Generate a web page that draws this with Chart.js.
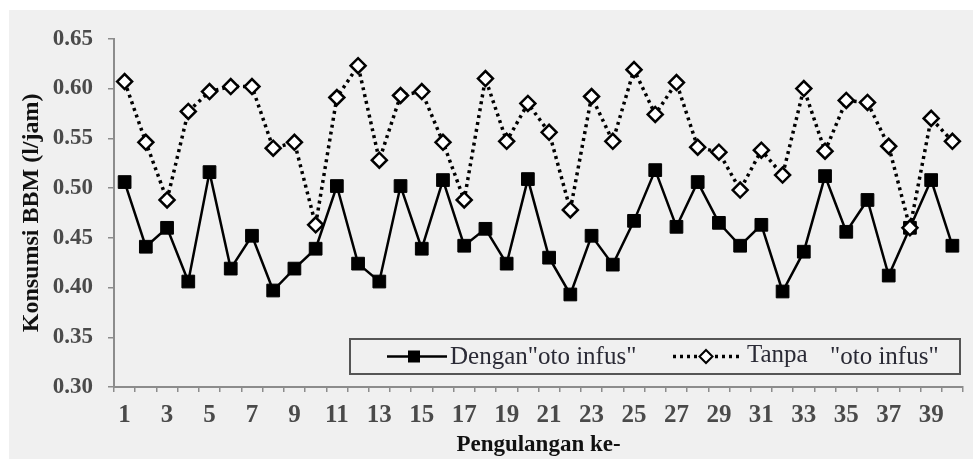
<!DOCTYPE html>
<html><head><meta charset="utf-8">
<script src="https://cdn.jsdelivr.net/npm/chart.js@4.4.0/dist/chart.umd.min.js"></script>
<style>
html,body{margin:0;padding:0;background:#fff;}
#wrap{position:absolute;left:9px;top:10px;width:964px;height:449px;background:#f0f0f0;}
canvas{display:block;}
</style></head><body>
<div id="wrap"><canvas id="c" width="964" height="449"></canvas></div>
<script>
const categories = ['1','2','3','4','5','6','7','8','9','10','11','12','13','14','15','16','17','18','19','20',
  '21','22','23','24','25','26','27','28','29','30','31','32','33','34','35','36','37','38','39','40'];
const tickLabels = ['1','3','5','7','9','11','13','15','17','19','21','23','25','27','29','31','33','35','37','39'];
const yTicks = [0.30, 0.35, 0.40, 0.45, 0.50, 0.55, 0.60, 0.65];
const dengan = [0.506,0.441,0.460,0.406,0.516,0.419,0.452,0.397,0.419,0.439,
  0.502,0.424,0.406,0.502,0.439,0.508,0.442,0.459,0.424,0.509,
  0.430,0.393,0.452,0.423,0.467,0.518,0.461,0.506,0.465,0.442,
  0.463,0.396,0.436,0.512,0.456,0.488,0.412,0.460,0.508,0.442];
const tanpa = [0.607,0.546,0.488,0.577,0.597,0.602,0.602,0.540,0.546,0.463,
  0.591,0.623,0.528,0.593,0.597,0.546,0.488,0.610,0.547,0.585,
  0.556,0.478,0.592,0.547,0.619,0.574,0.606,0.541,0.536,0.498,
  0.538,0.513,0.600,0.537,0.588,0.586,0.542,0.460,0.570,0.547];
const seriesLabels = ['Dengan"oto infus"', 'Tanpa "oto infus"'];

const SERIF = "'Liberation Serif','Times New Roman',serif";

const boxLegend = {
  id: 'boxLegend',
  afterDraw(chart) {
    const {ctx, chartArea: a} = chart;
    const w = 610, h = 35;
    const x0 = a.right - 3 - w, y0 = a.bottom - 13 - h;
    const cy = y0 + h / 2;
    ctx.save();
    ctx.fillStyle = '#f0f0f0';
    ctx.fillRect(x0, y0, w, h);
    ctx.strokeStyle = '#555';
    ctx.lineWidth = 2;
    ctx.strokeRect(x0, y0, w, h);
    const ds = chart.data.datasets;
    // item 1
    ctx.strokeStyle = '#000';
    ctx.lineWidth = 2.5;
    ctx.setLineDash([]);
    ctx.beginPath(); ctx.moveTo(x0 + 37, cy); ctx.lineTo(x0 + 97, cy); ctx.stroke();
    ctx.fillStyle = '#000';
    ctx.fillRect(x0 + 64 - 6, cy - 6, 12, 12);
    ctx.font = 'normal 25px ' + SERIF;
    ctx.fillStyle = '#2a2a35';
    ctx.textBaseline = 'middle';
    ctx.textAlign = 'left';
    ctx.fillText(ds[0].label, x0 + 100, cy + 1);
    // item 2
    ctx.strokeStyle = '#000';
    ctx.lineWidth = 3.5;
    ctx.setLineDash([3, 4]);
    ctx.beginPath(); ctx.moveTo(x0 + 323, cy); ctx.lineTo(x0 + 393, cy); ctx.stroke();
    ctx.setLineDash([]);
    ctx.fillStyle = '#fff';
    ctx.lineWidth = 2;
    ctx.beginPath();
    const dx = x0 + 356, r = 6.5;
    ctx.moveTo(dx, cy - r); ctx.lineTo(dx + r, cy); ctx.lineTo(dx, cy + r); ctx.lineTo(dx - r, cy); ctx.closePath();
    ctx.fill(); ctx.stroke();
    const lbl = ds[1].label;
    const sp = lbl.indexOf(' ');
    ctx.fillStyle = '#2a2a35';
    ctx.fillText(lbl.slice(0, sp), x0 + 397, cy - 1);
    ctx.fillText(lbl.slice(sp + 1), x0 + 480, cy + 1);
    ctx.restore();
  }
};

new Chart(document.getElementById('c'), {
  type: 'line',
  data: {
    labels: categories,
    datasets: [
      {label: seriesLabels[0], data: dengan, borderColor: '#000', borderWidth: 2.5, tension: 0,
       pointStyle: 'rect', pointRadius: 9, pointBackgroundColor: '#000', pointBorderColor: '#000',
       pointBorderWidth: 1, order: 2, clip: false},
      {label: seriesLabels[1], data: tanpa, borderColor: '#000', borderWidth: 3.5, borderDash: [3, 4], tension: 0,
       pointStyle: 'rectRot', pointRadius: 7.5, pointBackgroundColor: '#fff', pointBorderColor: '#000',
       pointBorderWidth: 2.5, order: 1, clip: false}
    ]
  },
  options: {
    responsive: false,
    animation: false,
    devicePixelRatio: 1,
    layout: {padding: {top: 22, right: 5, left: 0, bottom: 0}},
    plugins: {legend: {display: false}, tooltip: {enabled: false}},
    scales: {
      x: {
        offset: true,
        grid: {offset: true, drawOnChartArea: false, drawTicks: true, tickLength: 5, color: '#8c8c8c', lineWidth: 1.5},
        border: {color: '#8c8c8c', width: 2},
        ticks: {autoSkip: false, maxRotation: 0, minRotation: 0, padding: 9, color: '#4a4a4a',
          font: {family: SERIF, weight: 'bold', size: 25},
          callback(v, i) { return tickLabels.includes(categories[i]) ? categories[i] : ''; }},
        title: {display: true, text: 'Pengulangan ke-', color: '#111',
          font: {family: SERIF, weight: 'bold', size: 23}, padding: {top: 0, bottom: 0}},
        afterFit(s) { s.height = 72; }
      },
      y: {
        min: yTicks[0], max: yTicks[yTicks.length - 1],
        afterBuildTicks(s) { s.ticks = yTicks.map(v => ({value: v})); },
        grid: {drawOnChartArea: false, drawTicks: true, tickLength: 6, color: '#8c8c8c', lineWidth: 1.5},
        border: {color: '#8c8c8c', width: 2},
        ticks: {padding: 15, color: '#4a4a4a', font: {family: SERIF, weight: 'bold', size: 23},
          callback: v => Number(v).toFixed(2)},
        title: {display: true, text: 'Konsumsi BBM (l/jam)', color: '#111',
          font: {family: SERIF, weight: 'bold', size: 24}, padding: {top: 8, bottom: 0}},
        afterFit(s) { s.width = 105; }
      }
    }
  },
  plugins: [boxLegend]
});
</script>
</body></html>
